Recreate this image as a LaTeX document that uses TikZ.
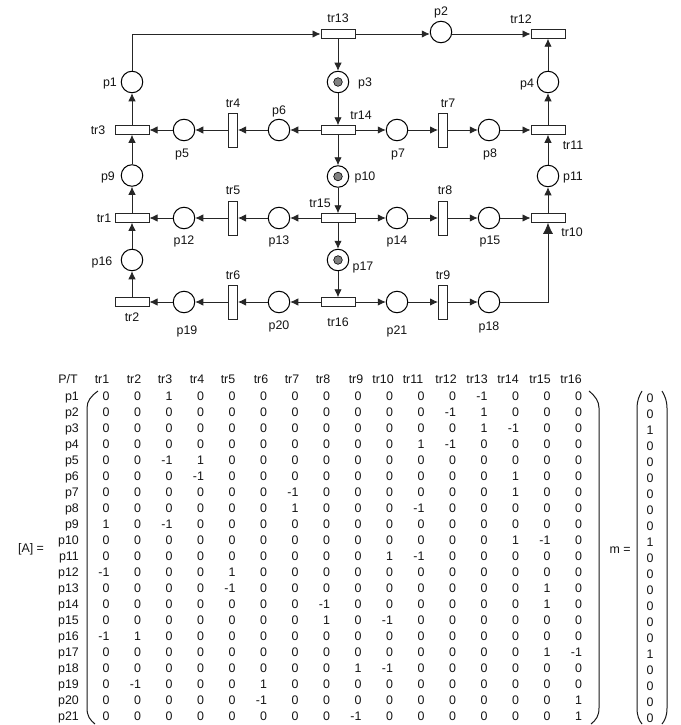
\documentclass[tikz,border=0pt]{standalone}
\usepackage{fontspec}
\setmainfont{Liberation Sans}
\usetikzlibrary{arrows.meta}
\newcommand{\mcell}[1]{\ifnum#1<0 \llap{-}1\else#1\fi}
\tikzset{
  place/.style={circle,draw=black,fill=white,line width=1pt,minimum size=21.5pt,inner sep=0pt},
  token/.style={circle,draw=black,fill=black!50,line width=0.6pt,minimum size=8.6pt,inner sep=0pt},
  trh/.style={rectangle,draw=black!85,fill=white,line width=1pt,minimum width=34pt,minimum height=8.5pt,inner sep=0pt},
  trv/.style={rectangle,draw=black!85,fill=white,line width=1pt,minimum width=9pt,minimum height=34pt,inner sep=0pt},
  lab/.style={inner sep=0pt,text height=8.6pt,text depth=0pt,font=\fontsize{12.4}{14}\selectfont,text=black!92},
  cell/.style={lab},
  arc/.style={draw=black!85,line width=0.85pt,-{Latex[length=8pt,width=7.5pt]}},
  bigarc/.style={draw=black!85,line width=0.85pt,-{Latex[length=11pt,width=10pt]}},
  brack/.style={draw=black!90,line width=1pt}
}
\begin{document}
\begin{tikzpicture}[x=1pt,y=-1pt]
\useasboundingbox (0,0) rectangle (680,725);
\fill[white] (0,0) rectangle (680,725);
% places
\foreach \n/\x/\y in {p1/132/82,p3/338/82,p4/548/82,p5/184/130,p6/279/130,p7/397/130,p8/489/130,p9/132/175.5,p10/338/176.5,p11/548/176,p12/184/218,p13/279/218,p14/397/218,p15/489/218,p16/132/260,p17/338/260,p18/489/302,p19/184/302,p20/279/302,p21/397/302,p2/441/32}
  \node[place] (\n) at (\x,\y) {};
% tokens
\foreach \n in {p3,p10,p17} \node[token] (tok\n) at (\n) {};
% transitions
\foreach \n/\x/\y in {tr13/338/34,tr12/548/34,tr3/132/130,tr14/338/130,tr11/548/130,tr1/132/218,tr15/338/218,tr10/548/218,tr2/132/302,tr16/338/302}
  \node[trh] (\n) at (\x,\y) {};
\foreach \n/\x/\y in {tr4/233/130,tr7/443/130,tr5/233/218,tr8/443/218,tr6/233/302,tr9/443/302}
  \node[trv] (\n) at (\x,\y) {};
% arcs
\foreach \a/\b in {tr13/p3,p3/tr14,tr14/p6,p6/tr4,tr4/p5,p5/tr3,tr3/p1,tr14/p7,p7/tr7,tr7/p8,p8/tr11,tr11/p4,p4/tr12,tr14/p10,p10/tr15,tr15/p13,p13/tr5,tr5/p12,p12/tr1,tr1/p9,p9/tr3,tr15/p14,p14/tr8,tr8/p15,p15/tr10,tr10/p11,p11/tr11,tr15/p17,p17/tr16,tr16/p20,p20/tr6,tr6/p19,p19/tr2,tr2/p16,p16/tr1,tr16/p21,p21/tr9,tr9/p18}
  \draw[arc] (\a) -- (\b);
\draw[arc] (p1.north) |- (tr13.west);
\draw[arc] (tr13.east) -- (tr13.east -| p2.west);
\draw[arc] (tr12.west -| p2.east) -- (tr12.west);
\draw[bigarc] (p18.east) -| (tr10.south);
% element labels
\foreach \t/\x/\y in {tr13/338/18,p1/110/82,p3/365/82,tr4/233/103,p6/279/110,tr14/361/115,tr3/98/130,p5/182/153,p9/108/176,p10/365/176,p2/441/11,tr12/521/19,p4/527/83,tr7/448/103,p7/398/153,p8/490/153,tr11/573/145,p11/573/176,tr5/233/190,p12/184/240,p13/279/240,tr15/320/203,tr1/104/218,p16/102/261,p17/363/266,tr6/233/275,tr2/132/317,p19/187/330,p20/279/325,tr16/338/322,tr8/445/190,p14/397/240,p15/490/240,tr10/572/232,tr9/443/275,p21/397/330,p18/489/326}
  \node[lab] (lab\t) at (\x,\y) {\t};
% matrix headers
\node[lab] (hPT) at (68,379) {P/T};
\foreach \t/\x in {tr1/102,tr2/134,tr3/165,tr4/197,tr5/228,tr6/261,tr7/292,tr8/323,tr9/356,tr10/383,tr11/413,tr12/446,tr13/477,tr14/508,tr15/540,tr16/571}
  \node[lab] (h\t) at (\x,379) {\t};
% matrix body
\foreach \row [count=\i] in {
 {0,0,1,0,0,0,0,0,0,0,0,0,-1,0,0,0},
 {0,0,0,0,0,0,0,0,0,0,0,-1,1,0,0,0},
 {0,0,0,0,0,0,0,0,0,0,0,0,1,-1,0,0},
 {0,0,0,0,0,0,0,0,0,0,1,-1,0,0,0,0},
 {0,0,-1,1,0,0,0,0,0,0,0,0,0,0,0,0},
 {0,0,0,-1,0,0,0,0,0,0,0,0,0,1,0,0},
 {0,0,0,0,0,0,-1,0,0,0,0,0,0,1,0,0},
 {0,0,0,0,0,0,1,0,0,0,-1,0,0,0,0,0},
 {1,0,-1,0,0,0,0,0,0,0,0,0,0,0,0,0},
 {0,0,0,0,0,0,0,0,0,0,0,0,0,1,-1,0},
 {0,0,0,0,0,0,0,0,0,1,-1,0,0,0,0,0},
 {-1,0,0,0,1,0,0,0,0,0,0,0,0,0,0,0},
 {0,0,0,0,-1,0,0,0,0,0,0,0,0,0,1,0},
 {0,0,0,0,0,0,0,-1,0,0,0,0,0,0,1,0},
 {0,0,0,0,0,0,0,1,0,-1,0,0,0,0,0,0},
 {-1,1,0,0,0,0,0,0,0,0,0,0,0,0,0,0},
 {0,0,0,0,0,0,0,0,0,0,0,0,0,0,1,-1},
 {0,0,0,0,0,0,0,0,1,-1,0,0,0,0,0,0},
 {0,-1,0,0,0,1,0,0,0,0,0,0,0,0,0,0},
 {0,0,0,0,0,-1,0,0,0,0,0,0,0,0,0,1},
 {0,0,0,0,0,0,0,0,-1,0,0,0,0,0,0,1}} {
  \pgfmathsetmacro{\ry}{396+16*(\i-1)}
  \node[lab,anchor=east] (rp\i) at (79,\ry) {p\i};
  \foreach \v [count=\j] in \row {
    \pgfmathsetmacro{\cx}{106+31.5*(\j-1)}
    \node[cell] (c\i-\j) at (\cx,\ry) {\mcell{\v}};
  }
}
% marking vector
\foreach \v [count=\i] in {0,0,1,0,0,0,0,0,0,1,0,0,0,0,0,0,1,0,0,0,0} {
  \pgfmathsetmacro{\my}{398+16*(\i-1)}
  \node[cell] (m\i) at (650,\my) {\v};
}
\node[lab] (labA) at (31,548) {[A] =};
\node[lab] (labm) at (620,549) {m =};
% brackets
\draw[brack] (98,391) .. controls (91,396) and (87,401) .. (87,408) -- (87,708) .. controls (87,716) and (90,720) .. (95,724);
\draw[brack] (589,391) .. controls (595,396) and (599,401) .. (599,408) -- (599,708) .. controls (599,716) and (596,720) .. (591,724);
\draw[brack] (642,391) .. controls (639,396) and (637,401) .. (637,408) -- (637,708) .. controls (637,716) and (639,720) .. (642,724);
\draw[brack] (662,391) .. controls (665,396) and (667,401) .. (667,408) -- (667,708) .. controls (667,716) and (665,720) .. (662,724);
\end{tikzpicture}
\end{document}
